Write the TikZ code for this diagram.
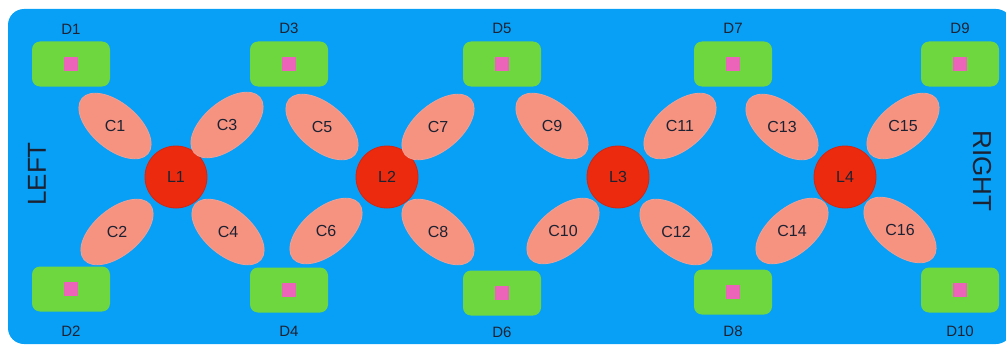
\documentclass[tikz,border=0pt]{standalone}
\usepackage{fontspec}
\setmainfont{Liberation Sans}
\usetikzlibrary{shapes.geometric}
\definecolor{bgblue}{RGB}{8,160,246}
\definecolor{boxgreen}{RGB}{110,214,62}
\definecolor{sqpink}{RGB}{236,100,186}
\definecolor{cpink}{RGB}{246,146,128}
\definecolor{cedge}{RGB}{236,160,150}
\definecolor{lred}{RGB}{236,42,14}
\definecolor{ledge}{RGB}{214,36,16}
\definecolor{txt}{RGB}{28,34,50}
\tikzset{
  dbox/.style={draw=none, fill=boxgreen, rounded corners=8pt, minimum width=78pt, minimum height=45pt, inner sep=0pt},
  dsq/.style={fill=sqpink, minimum size=14pt, inner sep=0pt},
  dlabel/.style={text=txt, font=\fontsize{15}{18}\selectfont, inner sep=0pt},
  cell/.style={ellipse, fill=cpink, draw=cedge, line width=0.8pt, minimum width=86pt, minimum height=46pt, inner sep=0pt, text=txt, font=\fontsize{16}{19}\selectfont},
  lcirc/.style={circle, fill=lred, draw=ledge, line width=0.8pt, minimum size=62pt, inner sep=0pt, text=txt, font=\fontsize{16}{19}\selectfont},
  side/.style={text=txt, font=\fontsize{26}{30}\selectfont, inner sep=0pt}
}
\begin{document}
\begin{tikzpicture}[x=1pt,y=-1pt]
\useasboundingbox (0,0) rectangle (1006,345);
\begin{scope}
\clip (0,0) rectangle (1006,345);
\fill[bgblue, rounded corners=16pt] (8,9) rectangle (1012,344);
\end{scope}
% D boxes
\foreach \n/\x/\y/\ly in {1/71/64/29, 2/71/289/331, 3/289/64/28, 4/289/290/331, 5/502/64/28, 6/502/293/332, 7/733/64/28, 8/733/292/331, 9/960/64/28, 10/960/290/331}{
  \node[dbox] (D\n) at (\x,\y) {};
  \node[dsq] (S\n) at (D\n.center) {};
  \node[dlabel] (DL\n) at (\x,\ly) {D\n};
}
% L circles
\node[lcirc] (L1) at (176,177) {L1};
\node[lcirc] (L2) at (387,177) {L2};
\node[lcirc] (L3) at (618,177) {L3};
\node[lcirc] (L4) at (845,177) {L4};
% C ellipses
\node[cell, rotate=-40] (C1) at (115,126) {\rotatebox{40}{C1}};
\node[cell, rotate=40] (C3) at (227,125) {\rotatebox{-40}{C3}};
\node[cell, rotate=40] (C2) at (117,232) {\rotatebox{-40}{C2}};
\node[cell, rotate=-40] (C4) at (228,232) {\rotatebox{40}{C4}};
\node[cell, rotate=-40] (C5) at (322,127) {\rotatebox{40}{C5}};
\node[cell, rotate=40] (C7) at (438,127) {\rotatebox{-40}{C7}};
\node[cell, rotate=40] (C6) at (326,231) {\rotatebox{-40}{C6}};
\node[cell, rotate=-40] (C8) at (438,232) {\rotatebox{40}{C8}};
\node[cell, rotate=-40] (C9) at (552,126) {\rotatebox{40}{C9}};
\node[cell, rotate=40] (C11) at (680,126) {\rotatebox{-40}{C11}};
\node[cell, rotate=40] (C10) at (563,231) {\rotatebox{-40}{C10}};
\node[cell, rotate=-40] (C12) at (676,232) {\rotatebox{40}{C12}};
\node[cell, rotate=-40] (C13) at (782,127) {\rotatebox{40}{C13}};
\node[cell, rotate=40] (C15) at (903,126) {\rotatebox{-40}{C15}};
\node[cell, rotate=40] (C14) at (792,231) {\rotatebox{-40}{C14}};
\node[cell, rotate=-40] (C16) at (900,230) {\rotatebox{40}{C16}};
% side labels
\node[side, rotate=90] (LEFT) at (37,174) {LEFT};
\node[side, rotate=-90] (RIGHT) at (982,171) {RIGHT};
\end{tikzpicture}
\end{document}
